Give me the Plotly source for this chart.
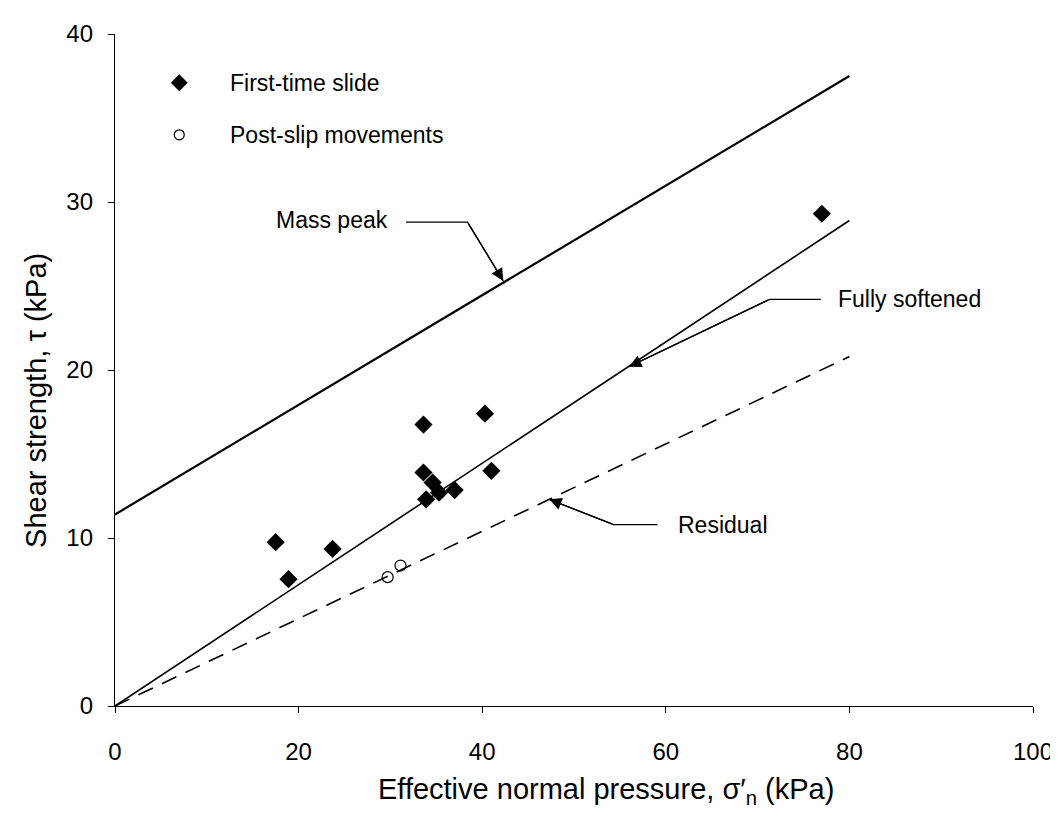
import plotly.graph_objects as go

# First-time slide data (effective normal pressure, shear strength)
first_x = [17.5, 18.9, 23.7, 33.6, 40.3, 33.6, 34.6, 33.9, 35.3, 37.0, 41.0, 77.0]
first_y = [9.75, 7.55, 9.35, 16.75, 17.4, 13.9, 13.3, 12.3, 12.7, 12.85, 14.0, 29.3]

# Post-slip movements
post_x = [29.7, 31.1]
post_y = [7.67, 8.36]

# Strength envelopes (end points)
peak_x = [0, 80]
peak_y = [11.4, 37.5]
soft_x = [0, 80]
soft_y = [0, 28.9]
resid_x = [0, 80]
resid_y = [0, 20.8]

x_ticks = [0, 20, 40, 60, 80, 100]
y_ticks = [0, 10, 20, 30, 40]

# Leader lines for labels: (start, elbow, arrow tip)
peak_lead_x = [31.7, 38.4, 42.3]
peak_lead_y = [28.8, 28.8, 25.3]
soft_lead_x = [76.9, 71.3, 56.0]
soft_lead_y = [24.2, 24.2, 20.2]
resid_lead_x = [59.1, 54.3, 47.3]
resid_lead_y = [10.8, 10.8, 12.3]

FONT = "Liberation Sans, Arial, sans-serif"

fig = go.Figure()
fig.add_trace(go.Scatter(x=peak_x, y=peak_y, mode="lines",
                         line=dict(color="black", width=2.2), showlegend=False))
fig.add_trace(go.Scatter(x=soft_x, y=soft_y, mode="lines",
                         line=dict(color="black", width=1.6), showlegend=False))
fig.add_trace(go.Scatter(x=resid_x, y=resid_y, mode="lines",
                         line=dict(color="black", width=1.6, dash="16px,10px"), showlegend=False))
fig.add_trace(go.Scatter(x=first_x, y=first_y, mode="markers",
                         marker=dict(symbol="diamond", size=14, color="black"),
                         showlegend=False))
fig.add_trace(go.Scatter(x=post_x, y=post_y, mode="markers",
                         marker=dict(symbol="circle-open", size=11, color="black",
                                     line=dict(width=1.2)),
                         showlegend=False))

leads = [(peak_lead_x, peak_lead_y), (soft_lead_x, soft_lead_y),
         (resid_lead_x, resid_lead_y)]
for lx, ly in leads:
    fig.add_trace(go.Scatter(x=lx, y=ly, mode="lines",
                             line=dict(color="black", width=1.3),
                             showlegend=False))

# Legend drawn manually
fig.add_trace(go.Scatter(x=[7.0], y=[37.1], mode="markers",
                         marker=dict(symbol="diamond", size=13, color="black"), showlegend=False))
fig.add_trace(go.Scatter(x=[7.0], y=[34.0], mode="markers",
                         marker=dict(symbol="circle-open", size=10, color="black",
                                     line=dict(width=1.2)), showlegend=False))

leg_font = dict(family=FONT, size=23, color="black")
ann_font = dict(family=FONT, size=23, color="black")
title_font = dict(family=FONT, size=29, color="black")
annotations = [
    dict(x=12.3, y=37.1, text="First-time slide", showarrow=False, xanchor="left",
         yanchor="middle", font=leg_font),
    dict(x=12.3, y=34.0, text="Post-slip movements", showarrow=False, xanchor="left",
         yanchor="middle", font=leg_font),
    dict(x=30.0, y=28.9, text="Mass peak", showarrow=False, xanchor="right",
         yanchor="middle", font=ann_font),
    dict(x=78.5, y=24.2, text="Fully softened", showarrow=False, xanchor="left",
         yanchor="middle", font=ann_font),
    dict(x=61.1, y=10.8, text="Residual", showarrow=False, xanchor="left",
         yanchor="middle", font=ann_font),
    dict(x=0.535, y=-0.127, xref="paper", yref="paper",
         text="Effective normal pressure, σ′<sub>n</sub> (kPa)", showarrow=False,
         xanchor="center", yanchor="middle", font=title_font),
    dict(x=-0.086, y=0.454, xref="paper", yref="paper", textangle=-90,
         text="Shear strength, τ (kPa)", showarrow=False,
         xanchor="center", yanchor="middle", font=title_font),
]
# Arrowheads at the tips of the leader lines
for lx, ly in leads:
    annotations.append(dict(x=lx[2], y=ly[2], ax=lx[1], ay=ly[1], xref="x", yref="y",
                            axref="x", ayref="y", text="", showarrow=True,
                            arrowhead=2, arrowsize=1.9, arrowwidth=1.3,
                            arrowcolor="black", standoff=0))

fig.update_layout(
    width=1058, height=817,
    margin=dict(l=107, r=33, t=22, b=119),
    paper_bgcolor="white", plot_bgcolor="white",
    font=dict(family=FONT, color="black"),
    annotations=annotations,
)
fig.update_xaxes(range=[0, 100], tickvals=x_ticks, showgrid=False, zeroline=False,
                 showline=True, linecolor="black", linewidth=1.3,
                 ticks="outside", ticklen=6, tickcolor="black",
                 tickfont=dict(size=24, family=FONT), ticklabelstandoff=18)
fig.update_yaxes(range=[0, 40], tickvals=y_ticks, showgrid=False, zeroline=False,
                 showline=True, linecolor="black", linewidth=1.3,
                 ticks="outside", ticklen=6, tickcolor="black",
                 tickfont=dict(size=24, family=FONT), ticklabelstandoff=10)

fig.write_html("out.html")
